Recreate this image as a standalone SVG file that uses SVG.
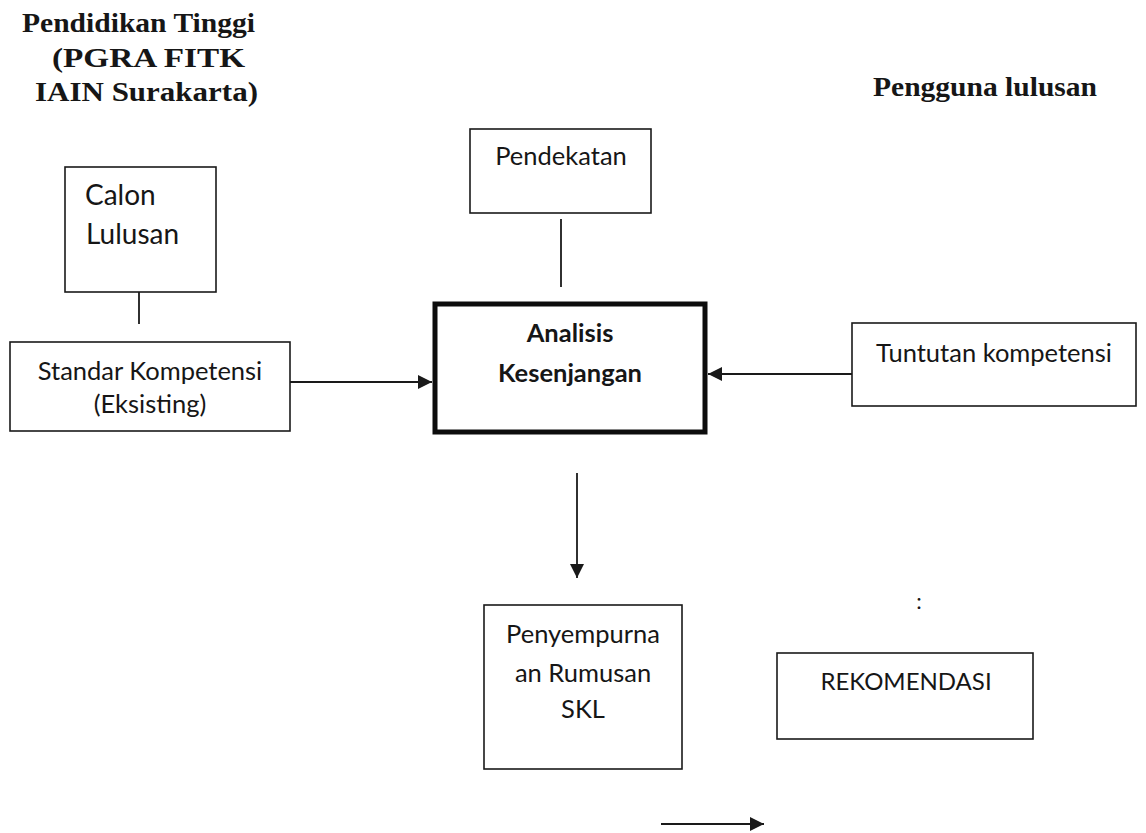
<svg xmlns="http://www.w3.org/2000/svg" width="1146" height="833" viewBox="0 0 1146 833">
<defs>
<style>
.box{fill:#fff;stroke:#1a1a1a;stroke-width:1.6}
.thick{fill:#fff;stroke:#0d0d0d;stroke-width:5}
.t{font-family:Lato,"Open Sans",sans-serif;font-size:25.5px;fill:#161616}
.tb{font-family:Lato,"Open Sans",sans-serif;font-size:25.5px;font-weight:bold;fill:#161616}
.h{font-family:"Liberation Serif","Times New Roman",serif;font-size:27px;font-weight:bold;fill:#161616}
.ln{stroke:#1a1a1a;stroke-width:1.8;fill:none}
</style>
<marker id="ah2" viewBox="0 0 10 10" refX="10" refY="5" markerWidth="14" markerHeight="14" markerUnits="userSpaceOnUse" orient="auto">
<path d="M0,0 L10,5 L0,10 z" fill="#1a1a1a"/>
</marker>
</defs>
<rect width="1146" height="833" fill="#fff"/>

<g id="title-left">
<text class="h" x="22" y="32" textLength="233" lengthAdjust="spacingAndGlyphs">Pendidikan Tinggi</text>
<text class="h" x="52" y="67" textLength="193" lengthAdjust="spacingAndGlyphs">(PGRA FITK</text>
<text class="h" x="35" y="101" textLength="223" lengthAdjust="spacingAndGlyphs">IAIN Surakarta)</text>
</g>
<g id="title-right">
<text class="h" x="873" y="96" textLength="224" lengthAdjust="spacingAndGlyphs">Pengguna lulusan</text>
</g>

<g id="connectors">
<line class="ln" x1="561" y1="219" x2="561" y2="287"/>
<line class="ln" x1="139" y1="275" x2="139" y2="324"/>
<line class="ln" x1="290" y1="382" x2="432" y2="382" marker-end="url(#ah2)"/>
<line class="ln" x1="852" y1="374" x2="708" y2="374" marker-end="url(#ah2)"/>
<line class="ln" x1="577" y1="473" x2="577" y2="578" marker-end="url(#ah2)"/>
<line class="ln" x1="661" y1="824" x2="764" y2="824" marker-end="url(#ah2)"/>
</g>

<g id="pendekatan">
<rect class="box" x="470" y="129" width="181" height="84"/>
<text class="t" x="561" y="165" text-anchor="middle">Pendekatan</text>
</g>

<g id="calon-lulusan">
<rect class="box" x="65" y="167" width="151" height="125"/>
<text class="t" x="85" y="205" style="font-size:28px">Calon</text>
<text class="t" x="86" y="244" style="font-size:28px">Lulusan</text>
</g>

<g id="standar-kompetensi">
<rect class="box" x="10" y="342" width="280" height="89"/>
<text class="t" x="150" y="380" text-anchor="middle">Standar Kompetensi</text>
<text class="t" x="150" y="413" text-anchor="middle">(Eksisting)</text>
</g>

<g id="analisis-kesenjangan">
<rect class="thick" x="435" y="304" width="270" height="128"/>
<text class="tb" x="570" y="342" text-anchor="middle">Analisis</text>
<text class="tb" x="570" y="382" text-anchor="middle">Kesenjangan</text>
</g>

<g id="tuntutan-kompetensi">
<rect class="box" x="852" y="323" width="284" height="83"/>
<text class="t" x="994" y="362" text-anchor="middle">Tuntutan kompetensi</text>
</g>

<g id="penyempurnaan">
<rect class="box" x="484" y="605" width="198" height="164"/>
<text class="t" x="583" y="643" text-anchor="middle">Penyempurna</text>
<text class="t" x="583" y="682" text-anchor="middle">an Rumusan</text>
<text class="t" x="583" y="718" text-anchor="middle">SKL</text>
</g>

<g id="rekomendasi">
<rect class="box" x="777" y="653" width="256" height="86"/>
<text class="t" x="906" y="690" text-anchor="middle" style="font-size:24px">REKOMENDASI</text>
</g>

<text class="t" x="919" y="609" text-anchor="middle" style="font-size:22px">:</text>
</svg>
